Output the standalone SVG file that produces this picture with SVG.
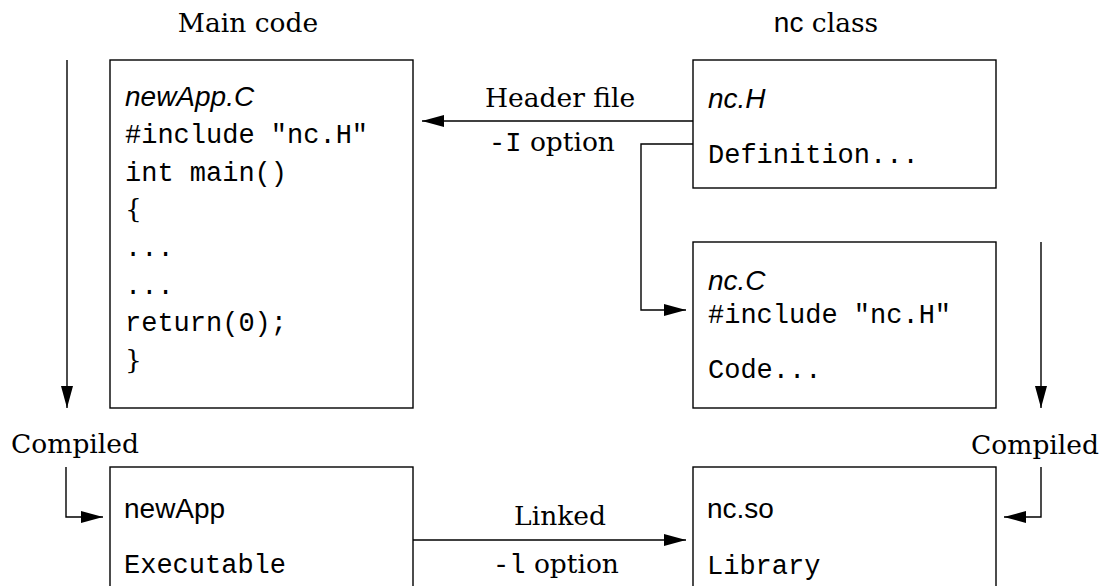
<svg xmlns="http://www.w3.org/2000/svg" width="1104" height="586" viewBox="0 0 1104 586">
<style>
.box{fill:#fff;stroke:#000;stroke-width:1.4}
.ln{fill:none;stroke:#000;stroke-width:1.4}
.rm{font-family:"DejaVu Serif","Liberation Serif",serif;font-size:26.5px;fill:#000}
.tt{font-family:"Liberation Mono","DejaVu Sans Mono",monospace;font-size:27px;fill:#000}
.sf{font-family:"Liberation Sans","DejaVu Sans",sans-serif;font-size:28px;fill:#000}
.it{font-style:italic}
</style>
<defs>
<marker id="ah" markerUnits="userSpaceOnUse" markerWidth="24" markerHeight="14" refX="22" refY="6" orient="auto">
<path d="M0,0 L22,6 L0,12 z" fill="#000"/>
</marker>
</defs>
<rect width="1104" height="586" fill="#fff"/>
<g id="titles">
<text class="rm" x="248" y="32" text-anchor="middle">Main code</text>
<text x="826" y="32" text-anchor="middle"><tspan class="sf">nc</tspan><tspan class="rm"> class</tspan></text>
</g>
<g id="main">
<rect class="box" x="110" y="60" width="303" height="348"/>
<text class="sf it" x="125" y="106">newApp.C</text>
<text class="tt" x="125" y="143">#include "nc.H"</text>
<text class="tt" x="125" y="181">int main()</text>
<text class="rm" x="125" y="218">{</text>
<text class="tt" x="125" y="256">...</text>
<text class="tt" x="125" y="294">...</text>
<text class="tt" x="125" y="331">return(0);</text>
<text class="rm" x="125" y="369">}</text>
</g>
<g id="ncH">
<rect class="box" x="693" y="60" width="303" height="128"/>
<text class="sf it" x="708" y="108">nc.H</text>
<text class="tt" x="708" y="163">Definition...</text>
</g>
<g id="ncC">
<rect class="box" x="693" y="242" width="303" height="166"/>
<text class="sf it" x="708" y="290">nc.C</text>
<text class="tt" x="708" y="323">#include "nc.H"</text>
<text class="tt" x="708" y="378">Code...</text>
</g>
<g id="newApp">
<rect class="box" x="110" y="467" width="303" height="140"/>
<text class="sf" x="124" y="518">newApp</text>
<text class="tt" x="124" y="573">Executable</text>
</g>
<g id="ncso">
<rect class="box" x="693" y="467" width="303" height="140"/>
<text class="sf" x="707" y="518">nc.so</text>
<text class="tt" x="707" y="574">Library</text>
</g>
<g id="connectors">
<path class="ln" d="M693,121 H422" marker-end="url(#ah)"/>
<path class="ln" d="M693,144 H641 V310 H686" marker-end="url(#ah)"/>
<path class="ln" d="M67,60 V408" marker-end="url(#ah)"/>
<path class="ln" d="M1041,242 V408" marker-end="url(#ah)"/>
<path class="ln" d="M66,467 V517 H103" marker-end="url(#ah)"/>
<path class="ln" d="M1041,467 V517 H1004" marker-end="url(#ah)"/>
<path class="ln" d="M413,540 H686" marker-end="url(#ah)"/>
<text class="rm" x="560" y="107" text-anchor="middle">Header file</text>
<text x="552" y="151" text-anchor="middle"><tspan class="tt">-I</tspan><tspan class="rm"> option</tspan></text>
<text class="rm" x="560" y="525" text-anchor="middle">Linked</text>
<text x="556" y="573" text-anchor="middle"><tspan class="tt">-l</tspan><tspan class="rm"> option</tspan></text>
<text class="rm" x="75" y="453" text-anchor="middle">Compiled</text>
<text class="rm" x="1035" y="454" text-anchor="middle">Compiled</text>
</g>
</svg>
